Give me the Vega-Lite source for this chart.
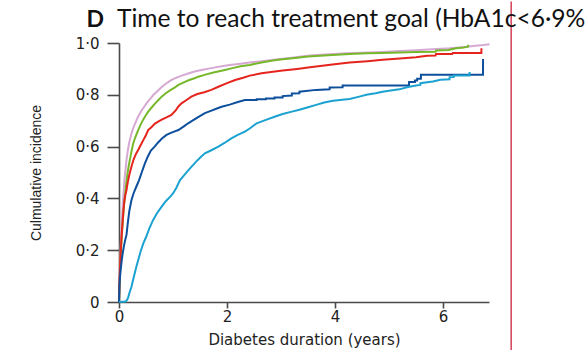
{
  "$schema": "https://vega.github.io/schema/vega-lite/v6.json",
  "width": 370,
  "height": 259,
  "autosize": {"type": "none"},
  "padding": {"left": 119, "top": 43, "right": 97, "bottom": 48},
  "background": "white",
  "title": {
    "text": "Time to reach treatment goal (HbA1c<6·9%",
    "anchor": "start",
    "frame": "group",
    "dx": -2,
    "offset": -51,
    "baseline": "alphabetic",
    "font": "Lato",
    "fontSize": 24.6,
    "fontWeight": "normal",
    "color": "#111111"
  },
  "config": {
    "view": {"stroke": null},
    "axis": {
      "grid": false,
      "domainColor": "#4a4a4a",
      "domainWidth": 1.6,
      "tickColor": "#4a4a4a",
      "tickWidth": 1.6,
      "labelColor": "#222222",
      "titleColor": "#222222",
      "labelFont": "DejaVu Sans",
      "titleFont": "DejaVu Sans",
      "titleFontWeight": "normal"
    }
  },
  "layer": [
    {
      "data": {
        "values": [
          {"s": "A", "t": 0, "v": 0}, {"s": "A", "t": 0.01, "v": 0.08}, {"s": "A", "t": 0.02, "v": 0.15}, {"s": "A", "t": 0.03, "v": 0.21}, {"s": "A", "t": 0.04, "v": 0.26}, {"s": "A", "t": 0.05, "v": 0.3}, {"s": "A", "t": 0.06, "v": 0.34}, {"s": "A", "t": 0.07, "v": 0.38}, {"s": "A", "t": 0.08, "v": 0.41}, {"s": "A", "t": 0.09, "v": 0.44}, {"s": "A", "t": 0.1, "v": 0.47}, {"s": "A", "t": 0.12, "v": 0.51}, {"s": "A", "t": 0.14, "v": 0.55}, {"s": "A", "t": 0.16, "v": 0.58}, {"s": "A", "t": 0.18, "v": 0.605}, {"s": "A", "t": 0.2, "v": 0.625}, {"s": "A", "t": 0.23, "v": 0.65}, {"s": "A", "t": 0.26, "v": 0.67}, {"s": "A", "t": 0.3, "v": 0.69}, {"s": "A", "t": 0.34, "v": 0.71}, {"s": "A", "t": 0.38, "v": 0.725}, {"s": "A", "t": 0.42, "v": 0.74}, {"s": "A", "t": 0.47, "v": 0.755}, {"s": "A", "t": 0.52, "v": 0.77}, {"s": "A", "t": 0.58, "v": 0.785}, {"s": "A", "t": 0.64, "v": 0.8}, {"s": "A", "t": 0.7, "v": 0.812}, {"s": "A", "t": 0.78, "v": 0.828}, {"s": "A", "t": 0.86, "v": 0.842}, {"s": "A", "t": 0.95, "v": 0.855}, {"s": "A", "t": 1.05, "v": 0.865}, {"s": "A", "t": 1.15, "v": 0.873}, {"s": "A", "t": 1.28, "v": 0.882}, {"s": "A", "t": 1.4, "v": 0.89}, {"s": "A", "t": 1.55, "v": 0.897}, {"s": "A", "t": 1.71, "v": 0.903}, {"s": "A", "t": 1.9, "v": 0.91}, {"s": "A", "t": 2.05, "v": 0.915}, {"s": "A", "t": 2.21, "v": 0.919}, {"s": "A", "t": 2.42, "v": 0.925}, {"s": "A", "t": 2.64, "v": 0.93}, {"s": "A", "t": 2.9, "v": 0.936}, {"s": "A", "t": 3.2, "v": 0.943}, {"s": "A", "t": 3.45, "v": 0.95}, {"s": "A", "t": 3.65, "v": 0.954}, {"s": "A", "t": 3.9, "v": 0.957}, {"s": "A", "t": 4.2, "v": 0.96}, {"s": "A", "t": 4.5, "v": 0.962}, {"s": "A", "t": 4.88, "v": 0.965}, {"s": "A", "t": 5.2, "v": 0.969}, {"s": "A", "t": 5.5, "v": 0.972}, {"s": "A", "t": 5.8, "v": 0.976}, {"s": "A", "t": 6.12, "v": 0.98}, {"s": "A", "t": 6.4, "v": 0.985}, {"s": "A", "t": 6.6, "v": 0.989}, {"s": "A", "t": 6.75, "v": 0.992}, {"s": "A", "t": 6.86, "v": 0.995},

          {"s": "B", "t": 0, "v": 0}, {"s": "B", "t": 0.01, "v": 0.06}, {"s": "B", "t": 0.02, "v": 0.12}, {"s": "B", "t": 0.03, "v": 0.17}, {"s": "B", "t": 0.04, "v": 0.21}, {"s": "B", "t": 0.05, "v": 0.25}, {"s": "B", "t": 0.06, "v": 0.28}, {"s": "B", "t": 0.07, "v": 0.31}, {"s": "B", "t": 0.08, "v": 0.34}, {"s": "B", "t": 0.09, "v": 0.365}, {"s": "B", "t": 0.1, "v": 0.39}, {"s": "B", "t": 0.12, "v": 0.43}, {"s": "B", "t": 0.14, "v": 0.47}, {"s": "B", "t": 0.16, "v": 0.5}, {"s": "B", "t": 0.18, "v": 0.525}, {"s": "B", "t": 0.2, "v": 0.548}, {"s": "B", "t": 0.23, "v": 0.58}, {"s": "B", "t": 0.26, "v": 0.61}, {"s": "B", "t": 0.3, "v": 0.635}, {"s": "B", "t": 0.355, "v": 0.664}, {"s": "B", "t": 0.4, "v": 0.685}, {"s": "B", "t": 0.45, "v": 0.705}, {"s": "B", "t": 0.5, "v": 0.722}, {"s": "B", "t": 0.54, "v": 0.735}, {"s": "B", "t": 0.6, "v": 0.75}, {"s": "B", "t": 0.67, "v": 0.767}, {"s": "B", "t": 0.73, "v": 0.78}, {"s": "B", "t": 0.79, "v": 0.793}, {"s": "B", "t": 0.86, "v": 0.805}, {"s": "B", "t": 0.95, "v": 0.818}, {"s": "B", "t": 1.03, "v": 0.828}, {"s": "B", "t": 1.1, "v": 0.838}, {"s": "B", "t": 1.2, "v": 0.848}, {"s": "B", "t": 1.3, "v": 0.857}, {"s": "B", "t": 1.4, "v": 0.864}, {"s": "B", "t": 1.47, "v": 0.87}, {"s": "B", "t": 1.6, "v": 0.878}, {"s": "B", "t": 1.75, "v": 0.886}, {"s": "B", "t": 1.96, "v": 0.896}, {"s": "B", "t": 2.1, "v": 0.903}, {"s": "B", "t": 2.25, "v": 0.91}, {"s": "B", "t": 2.42, "v": 0.915}, {"s": "B", "t": 2.64, "v": 0.925}, {"s": "B", "t": 2.85, "v": 0.932}, {"s": "B", "t": 3.03, "v": 0.937}, {"s": "B", "t": 3.3, "v": 0.943}, {"s": "B", "t": 3.5, "v": 0.948}, {"s": "B", "t": 3.65, "v": 0.95}, {"s": "B", "t": 3.95, "v": 0.954}, {"s": "B", "t": 4.27, "v": 0.958}, {"s": "B", "t": 4.6, "v": 0.96}, {"s": "B", "t": 4.88, "v": 0.961}, {"s": "B", "t": 5.2, "v": 0.963}, {"s": "B", "t": 5.5, "v": 0.965}, {"s": "B", "t": 5.86, "v": 0.966}, {"s": "B", "t": 5.87, "v": 0.971}, {"s": "B", "t": 6.1, "v": 0.973}, {"s": "B", "t": 6.24, "v": 0.98}, {"s": "B", "t": 6.38, "v": 0.983}, {"s": "B", "t": 6.46, "v": 0.986}, {"s": "B", "t": 6.47, "v": 0.993},

          {"s": "C", "t": 0, "v": 0}, {"s": "C", "t": 0.005, "v": 0.05}, {"s": "C", "t": 0.01, "v": 0.09}, {"s": "C", "t": 0.02, "v": 0.14}, {"s": "C", "t": 0.03, "v": 0.19}, {"s": "C", "t": 0.04, "v": 0.225}, {"s": "C", "t": 0.05, "v": 0.26}, {"s": "C", "t": 0.06, "v": 0.29}, {"s": "C", "t": 0.07, "v": 0.32}, {"s": "C", "t": 0.08, "v": 0.345}, {"s": "C", "t": 0.09, "v": 0.37}, {"s": "C", "t": 0.1, "v": 0.39}, {"s": "C", "t": 0.12, "v": 0.415}, {"s": "C", "t": 0.139, "v": 0.432}, {"s": "C", "t": 0.16, "v": 0.46}, {"s": "C", "t": 0.19, "v": 0.49}, {"s": "C", "t": 0.23, "v": 0.522}, {"s": "C", "t": 0.27, "v": 0.55}, {"s": "C", "t": 0.31, "v": 0.57}, {"s": "C", "t": 0.355, "v": 0.587}, {"s": "C", "t": 0.4, "v": 0.605}, {"s": "C", "t": 0.45, "v": 0.625}, {"s": "C", "t": 0.5, "v": 0.645}, {"s": "C", "t": 0.54, "v": 0.664}, {"s": "C", "t": 0.6, "v": 0.675}, {"s": "C", "t": 0.66, "v": 0.688}, {"s": "C", "t": 0.725, "v": 0.696}, {"s": "C", "t": 0.8, "v": 0.705}, {"s": "C", "t": 0.88, "v": 0.713}, {"s": "C", "t": 0.97, "v": 0.722}, {"s": "C", "t": 1.05, "v": 0.74}, {"s": "C", "t": 1.1, "v": 0.755}, {"s": "C", "t": 1.157, "v": 0.767}, {"s": "C", "t": 1.25, "v": 0.78}, {"s": "C", "t": 1.34, "v": 0.793}, {"s": "C", "t": 1.45, "v": 0.803}, {"s": "C", "t": 1.58, "v": 0.81}, {"s": "C", "t": 1.71, "v": 0.819}, {"s": "C", "t": 1.85, "v": 0.832}, {"s": "C", "t": 2.0, "v": 0.845}, {"s": "C", "t": 2.15, "v": 0.857}, {"s": "C", "t": 2.3, "v": 0.866}, {"s": "C", "t": 2.42, "v": 0.874}, {"s": "C", "t": 2.64, "v": 0.883}, {"s": "C", "t": 2.85, "v": 0.889}, {"s": "C", "t": 3.03, "v": 0.894}, {"s": "C", "t": 3.3, "v": 0.9}, {"s": "C", "t": 3.5, "v": 0.905}, {"s": "C", "t": 3.65, "v": 0.909}, {"s": "C", "t": 3.95, "v": 0.917}, {"s": "C", "t": 4.27, "v": 0.925}, {"s": "C", "t": 4.6, "v": 0.93}, {"s": "C", "t": 4.88, "v": 0.935}, {"s": "C", "t": 5.2, "v": 0.94}, {"s": "C", "t": 5.5, "v": 0.945}, {"s": "C", "t": 5.7, "v": 0.951}, {"s": "C", "t": 5.86, "v": 0.952}, {"s": "C", "t": 5.87, "v": 0.958}, {"s": "C", "t": 6.17, "v": 0.958}, {"s": "C", "t": 6.18, "v": 0.961}, {"s": "C", "t": 6.709, "v": 0.961}, {"s": "C", "t": 6.71, "v": 0.98},

          {"s": "D", "t": 0, "v": 0}, {"s": "D", "t": 0.005, "v": 0.04}, {"s": "D", "t": 0.01, "v": 0.07}, {"s": "D", "t": 0.02, "v": 0.1}, {"s": "D", "t": 0.034, "v": 0.13}, {"s": "D", "t": 0.05, "v": 0.16}, {"s": "D", "t": 0.07, "v": 0.19}, {"s": "D", "t": 0.09, "v": 0.215}, {"s": "D", "t": 0.11, "v": 0.235}, {"s": "D", "t": 0.139, "v": 0.26}, {"s": "D", "t": 0.16, "v": 0.3}, {"s": "D", "t": 0.19, "v": 0.35}, {"s": "D", "t": 0.23, "v": 0.393}, {"s": "D", "t": 0.27, "v": 0.42}, {"s": "D", "t": 0.32, "v": 0.445}, {"s": "D", "t": 0.37, "v": 0.47}, {"s": "D", "t": 0.42, "v": 0.5}, {"s": "D", "t": 0.48, "v": 0.535}, {"s": "D", "t": 0.53, "v": 0.56}, {"s": "D", "t": 0.59, "v": 0.585}, {"s": "D", "t": 0.66, "v": 0.6}, {"s": "D", "t": 0.72, "v": 0.615}, {"s": "D", "t": 0.8, "v": 0.632}, {"s": "D", "t": 0.88, "v": 0.645}, {"s": "D", "t": 0.95, "v": 0.652}, {"s": "D", "t": 1.02, "v": 0.658}, {"s": "D", "t": 1.1, "v": 0.664}, {"s": "D", "t": 1.2, "v": 0.678}, {"s": "D", "t": 1.28, "v": 0.69}, {"s": "D", "t": 1.36, "v": 0.7}, {"s": "D", "t": 1.45, "v": 0.712}, {"s": "D", "t": 1.59, "v": 0.729}, {"s": "D", "t": 1.7, "v": 0.738}, {"s": "D", "t": 1.8, "v": 0.746}, {"s": "D", "t": 1.9, "v": 0.754}, {"s": "D", "t": 2.05, "v": 0.762}, {"s": "D", "t": 2.2, "v": 0.772}, {"s": "D", "t": 2.33, "v": 0.78}, {"s": "D", "t": 2.549, "v": 0.78}, {"s": "D", "t": 2.55, "v": 0.783}, {"s": "D", "t": 2.719, "v": 0.783}, {"s": "D", "t": 2.72, "v": 0.786}, {"s": "D", "t": 2.879, "v": 0.786}, {"s": "D", "t": 2.88, "v": 0.79}, {"s": "D", "t": 3.029, "v": 0.79}, {"s": "D", "t": 3.03, "v": 0.795}, {"s": "D", "t": 3.199, "v": 0.797}, {"s": "D", "t": 3.2, "v": 0.805}, {"s": "D", "t": 3.339, "v": 0.806}, {"s": "D", "t": 3.34, "v": 0.812}, {"s": "D", "t": 3.65, "v": 0.819}, {"s": "D", "t": 3.899, "v": 0.821}, {"s": "D", "t": 3.9, "v": 0.828}, {"s": "D", "t": 4.139, "v": 0.829}, {"s": "D", "t": 4.14, "v": 0.836}, {"s": "D", "t": 5.369, "v": 0.836}, {"s": "D", "t": 5.37, "v": 0.849}, {"s": "D", "t": 5.479, "v": 0.849}, {"s": "D", "t": 5.48, "v": 0.855}, {"s": "D", "t": 5.519, "v": 0.855}, {"s": "D", "t": 5.52, "v": 0.862}, {"s": "D", "t": 5.589, "v": 0.862}, {"s": "D", "t": 5.59, "v": 0.877}, {"s": "D", "t": 6.739, "v": 0.877}, {"s": "D", "t": 6.74, "v": 0.938},

          {"s": "E", "t": 0, "v": 0}, {"s": "E", "t": 0.12, "v": 0.002}, {"s": "E", "t": 0.15, "v": 0.008}, {"s": "E", "t": 0.17, "v": 0.018}, {"s": "E", "t": 0.19, "v": 0.033}, {"s": "E", "t": 0.21, "v": 0.046}, {"s": "E", "t": 0.23, "v": 0.058}, {"s": "E", "t": 0.26, "v": 0.085}, {"s": "E", "t": 0.29, "v": 0.11}, {"s": "E", "t": 0.32, "v": 0.135}, {"s": "E", "t": 0.36, "v": 0.165}, {"s": "E", "t": 0.4, "v": 0.195}, {"s": "E", "t": 0.45, "v": 0.226}, {"s": "E", "t": 0.5, "v": 0.25}, {"s": "E", "t": 0.56, "v": 0.283}, {"s": "E", "t": 0.63, "v": 0.316}, {"s": "E", "t": 0.7, "v": 0.342}, {"s": "E", "t": 0.787, "v": 0.367}, {"s": "E", "t": 0.87, "v": 0.39}, {"s": "E", "t": 0.94, "v": 0.405}, {"s": "E", "t": 1.0, "v": 0.419}, {"s": "E", "t": 1.06, "v": 0.44}, {"s": "E", "t": 1.13, "v": 0.471}, {"s": "E", "t": 1.2, "v": 0.488}, {"s": "E", "t": 1.27, "v": 0.505}, {"s": "E", "t": 1.34, "v": 0.522}, {"s": "E", "t": 1.42, "v": 0.54}, {"s": "E", "t": 1.5, "v": 0.557}, {"s": "E", "t": 1.59, "v": 0.574}, {"s": "E", "t": 1.7, "v": 0.585}, {"s": "E", "t": 1.84, "v": 0.6}, {"s": "E", "t": 1.96, "v": 0.615}, {"s": "E", "t": 2.08, "v": 0.632}, {"s": "E", "t": 2.2, "v": 0.645}, {"s": "E", "t": 2.33, "v": 0.658}, {"s": "E", "t": 2.42, "v": 0.67}, {"s": "E", "t": 2.55, "v": 0.69}, {"s": "E", "t": 2.72, "v": 0.703}, {"s": "E", "t": 2.88, "v": 0.715}, {"s": "E", "t": 3.03, "v": 0.726}, {"s": "E", "t": 3.2, "v": 0.735}, {"s": "E", "t": 3.34, "v": 0.742}, {"s": "E", "t": 3.5, "v": 0.752}, {"s": "E", "t": 3.65, "v": 0.761}, {"s": "E", "t": 3.8, "v": 0.77}, {"s": "E", "t": 3.96, "v": 0.777}, {"s": "E", "t": 4.27, "v": 0.784}, {"s": "E", "t": 4.45, "v": 0.793}, {"s": "E", "t": 4.58, "v": 0.8}, {"s": "E", "t": 4.75, "v": 0.806}, {"s": "E", "t": 4.88, "v": 0.812}, {"s": "E", "t": 5.0, "v": 0.816}, {"s": "E", "t": 5.19, "v": 0.821}, {"s": "E", "t": 5.35, "v": 0.83}, {"s": "E", "t": 5.5, "v": 0.836}, {"s": "E", "t": 5.579, "v": 0.838}, {"s": "E", "t": 5.58, "v": 0.845}, {"s": "E", "t": 5.81, "v": 0.851}, {"s": "E", "t": 5.95, "v": 0.858}, {"s": "E", "t": 6.119, "v": 0.86}, {"s": "E", "t": 6.12, "v": 0.868}, {"s": "E", "t": 6.199, "v": 0.869}, {"s": "E", "t": 6.2, "v": 0.875}, {"s": "E", "t": 6.489, "v": 0.875}, {"s": "E", "t": 6.49, "v": 0.888}
        ]
      },
      "mark": {"type": "line", "interpolate": "linear", "strokeWidth": 2},
      "encoding": {
        "x": {
          "field": "t",
          "type": "quantitative",
          "scale": {"domain": [0, 6.85], "nice": false, "zero": false},
          "axis": {
            "values": [0, 2, 4, 6],
            "format": "d",
            "title": "Diabetes duration (years)",
            "tickSize": 6,
            "labelFontSize": 15,
            "labelPadding": 1,
            "titleFontSize": 15,
            "titlePadding": 8,
            "labelFlush": false
          }
        },
        "y": {
          "field": "v",
          "type": "quantitative",
          "scale": {"domain": [0, 1], "nice": false},
          "axis": {
            "values": [0, 0.2, 0.4, 0.6, 0.8, 1],
            "labelExpr": "datum.value == 0 ? '0' : replace(format(datum.value, '.1f'), '.', '·')",
            "title": "Culmulative incidence",
            "tickSize": 12,
            "labelPadding": 8,
            "labelFontSize": 15,
            "titleFont": "Liberation Sans",
            "titleFontSize": 14,
            "titlePadding": 32,
            "labelFlush": false
          }
        },
        "color": {
          "field": "s",
          "type": "nominal",
          "scale": {
            "domain": ["A", "B", "C", "D", "E"],
            "range": ["#d6a9d3", "#76b82a", "#e5241d", "#0d4f9c", "#1ba2d0"]
          },
          "legend": null
        }
      }
    },
    {
      "data": {"values": [{"t": 7.26, "lo": -0.19, "hi": 1.16}]},
      "mark": {"type": "rule", "color": "#c8102e", "strokeWidth": 1.2, "clip": false},
      "encoding": {
        "x": {"field": "t", "type": "quantitative"},
        "y": {"field": "lo", "type": "quantitative"},
        "y2": {"field": "hi"}
      }
    },
    {
      "data": {"values": [{"t": -0.44, "v": 1.063, "label": "D"}]},
      "mark": {"type": "text", "font": "Lato", "fontSize": 23, "fontWeight": "bold", "baseline": "alphabetic", "align": "center", "color": "#111111", "clip": false},
      "encoding": {
        "x": {"field": "t", "type": "quantitative"},
        "y": {"field": "v", "type": "quantitative"},
        "text": {"field": "label"}
      }
    }
  ]
}
